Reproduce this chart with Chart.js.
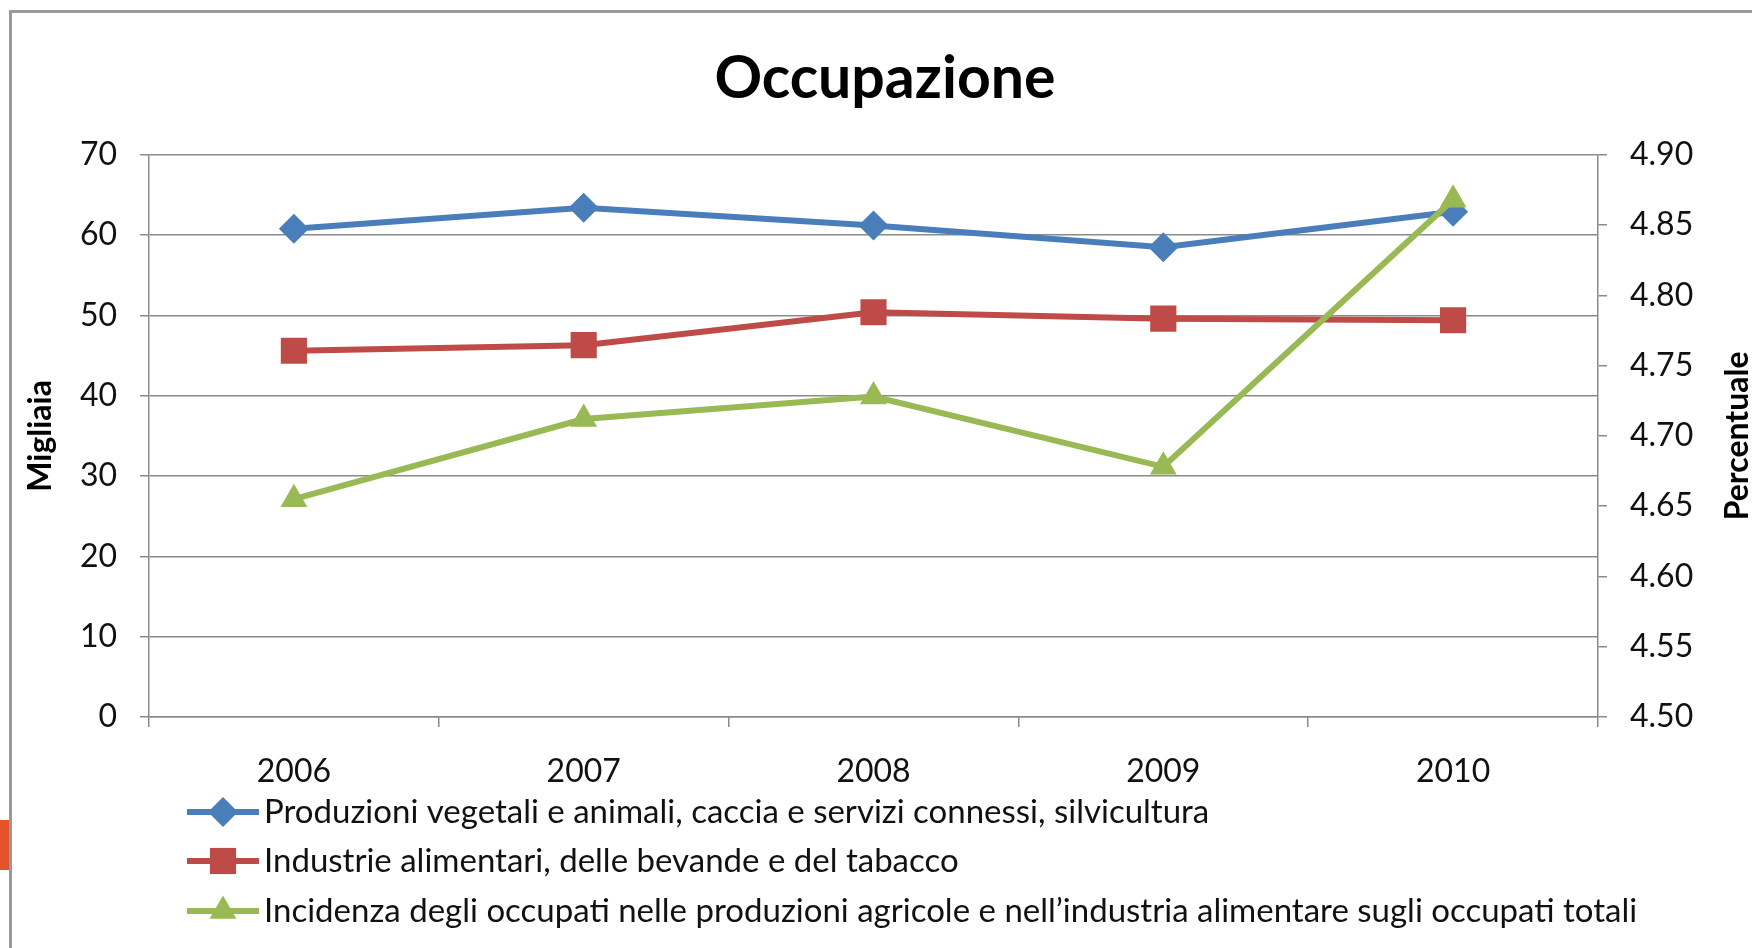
<!DOCTYPE html>
<html lang="it">
<head>
<meta charset="UTF-8">
<title>Occupazione</title>
<script src="https://cdn.jsdelivr.net/npm/chart.js"></script>
<style>
  html, body { margin: 0; padding: 0; background: #fff; overflow: hidden; }
  #wrap { position: relative; width: 1752px; height: 948px; }
  #frame { position: absolute; left: 9px; top: 10px; width: 1800px; height: 1000px;
           border-left: 3px solid #9a9a9a; border-top: 3px solid #9a9a9a; }
  #tab { position: absolute; left: 0; top: 820px; width: 9px; height: 50px; background: #e5532a; }
  canvas { position: absolute; left: 0; top: 0; }
</style>
</head>
<body>
<div id="wrap">
  <div id="tab"></div>
  <div id="frame"></div>
  <canvas id="chart" width="1752" height="948"></canvas>
</div>
<script>
// dati
const years = ['2006', '2007', '2008', '2009', '2010'];
const produzioni = [60.8, 63.4, 61.2, 58.5, 62.9];   // migliaia
const industrie = [45.6, 46.3, 50.4, 49.6, 49.4];    // migliaia
const incidenza = [4.655, 4.712, 4.728, 4.678, 4.868]; // percentuale
const leftTicks = [0, 10, 20, 30, 40, 50, 60, 70];
const rightTicks = [4.50, 4.55, 4.60, 4.65, 4.70, 4.75, 4.80, 4.85, 4.90];

const labelNames = [
    'Produzioni vegetali e animali, caccia e servizi connessi, silvicultura',
    'Industrie alimentari, delle bevande e del tabacco',
    'Incidenza degli occupati nelle produzioni agricole e nell\u2019industria alimentare sugli occupati totali'
];

const FONT = 'Lato';
const GRID = '#8a8a8a';

// legenda con linea + marcatore, come in Excel
const lineLegend = {
    id: 'lineLegend',
    afterDraw(chart) {
        const { ctx, chartArea } = chart;
        const rows = [95, 144, 194];
        chart.data.datasets.forEach((ds, i) => {
            const y = chartArea.bottom + rows[i];
            const x0 = chartArea.left + 38, x1 = chartArea.left + 110;
            ctx.save();
            ctx.strokeStyle = ds.borderColor;
            ctx.lineWidth = ds.borderWidth;
            ctx.beginPath();
            ctx.moveTo(x0, y);
            ctx.lineTo(x1, y);
            ctx.stroke();
            ctx.fillStyle = ds.pointBackgroundColor;
            Chart.helpers.drawPoint(ctx, { pointStyle: ds.pointStyle, radius: ds.pointRadius, borderWidth: 0, rotation: 0 }, (x0 + x1) / 2, y);
            ctx.fillStyle = '#111';
            ctx.font = '33px ' + FONT;
            ctx.textBaseline = 'middle';
            ctx.textAlign = 'left';
            ctx.fillText(ds.label, x1 + 5, y);
            ctx.restore();
        });
    }
};

// titolo asse destro letto dal basso verso l'alto
const rightTitle = {
    id: 'rightTitle',
    afterDraw(chart) {
        const { ctx, chartArea } = chart;
        ctx.save();
        ctx.translate(1738, (chartArea.top + chartArea.bottom) / 2);
        ctx.rotate(-Math.PI / 2);
        ctx.font = 'bold 32px ' + FONT;
        ctx.fillStyle = '#000';
        ctx.textAlign = 'center';
        ctx.textBaseline = 'middle';
        ctx.fillText('Percentuale', 0, 0);
        ctx.restore();
    }
};

function draw() {
    const ctx = document.getElementById('chart').getContext('2d');
    new Chart(ctx, {
        type: 'line',
        data: {
            labels: years,
            datasets: [{
                label: labelNames[0],
                data: produzioni,
                yAxisID: 'y',
                borderColor: '#4a7ebb',
                pointBackgroundColor: '#4a7ebb',
                pointBorderColor: '#4a7ebb',
                borderWidth: 6,
                pointStyle: 'rectRot',
                pointRadius: 15,
                pointHoverRadius: 15,
                pointBorderWidth: 0,
                tension: 0,
                order: 3
            }, {
                label: labelNames[1],
                data: industrie,
                yAxisID: 'y',
                borderColor: '#be4b48',
                pointBackgroundColor: '#be4b48',
                pointBorderColor: '#be4b48',
                borderWidth: 6,
                pointStyle: 'rect',
                pointRadius: 18.5,
                pointHoverRadius: 18.5,
                pointBorderWidth: 0,
                tension: 0,
                order: 2
            }, {
                label: labelNames[2],
                data: incidenza,
                yAxisID: 'y1',
                borderColor: '#98b954',
                pointBackgroundColor: '#98b954',
                pointBorderColor: '#98b954',
                borderWidth: 6,
                pointStyle: 'triangle',
                pointRadius: 15.5,
                pointHoverRadius: 15.5,
                pointBorderWidth: 0,
                tension: 0,
                order: 1
            }]
        },
        options: {
            responsive: false,
            animation: false,
            layout: { padding: { left: 18, right: 0, top: 0, bottom: 158 } },
            scales: {
                x: {
                    offset: true,
                    grid: { offset: true, drawOnChartArea: false, drawTicks: true, tickLength: 10, color: GRID, lineWidth: 1.5 },
                    border: { color: GRID, width: 1.5 },
                    ticks: { font: { family: FONT, size: 32 }, color: '#111', padding: 25, maxRotation: 0 },
                    afterFit: s => { s.height = 73; }
                },
                y: {
                    position: 'left',
                    min: 0,
                    max: 70,
                    afterBuildTicks: s => { s.ticks = leftTicks.map(v => ({ value: v })); },
                    grid: { color: GRID, lineWidth: 1.5, tickLength: 9 },
                    border: { color: GRID, width: 1.5 },
                    ticks: { font: { family: FONT, size: 32 }, color: '#111', padding: 23 },
                    title: { display: true, text: 'Migliaia', color: '#000', font: { family: FONT, size: 32, weight: 'bold' }, padding: { top: 3, bottom: 0 } },
                    afterFit: s => { s.width = 131; }
                },
                y1: {
                    position: 'right',
                    min: 4.5,
                    max: 4.9,
                    afterBuildTicks: s => { s.ticks = rightTicks.map(v => ({ value: v })); },
                    grid: { drawOnChartArea: false, color: GRID, lineWidth: 1.5, tickLength: 9 },
                    border: { color: GRID, width: 1.5 },
                    ticks: { font: { family: FONT, size: 32 }, color: '#111', padding: 23, callback: v => Number(v).toFixed(2) },
                    afterFit: s => { s.width = 154; }
                }
            },
            plugins: {
                legend: { display: false },
                tooltip: { enabled: false },
                title: {
                    display: true,
                    text: 'Occupazione',
                    color: '#000',
                    font: { family: FONT, size: 59, weight: 'bold' },
                    padding: { top: 44, bottom: 40 }
                }
            }
        },
        plugins: [lineLegend, rightTitle]
    });
}

Promise.all([
    document.fonts.load('32px ' + FONT),
    document.fonts.load('bold 59px ' + FONT),
    document.fonts.load('33px ' + FONT)
]).then(draw, draw);
</script>
</body>
</html>
